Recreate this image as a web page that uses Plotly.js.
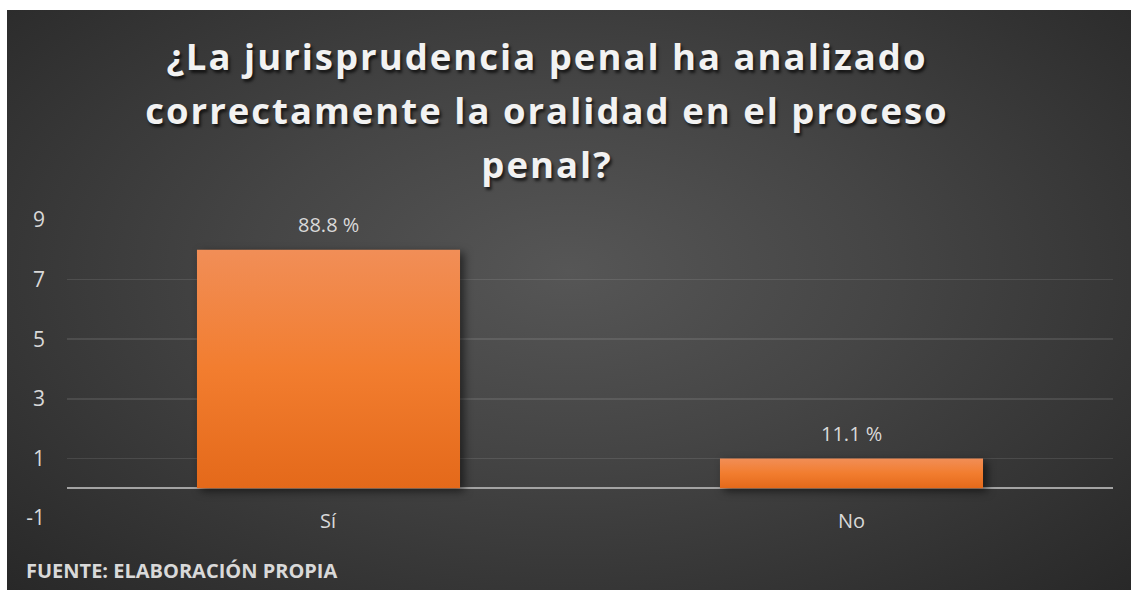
<!DOCTYPE html>
<html>
<head>
<meta charset="utf-8">
<script src="https://cdn.plot.ly/plotly-3.0.1.min.js"></script>
<style>
  html, body { margin: 0; padding: 0; background: #ffffff; }
  #chart {
    position: absolute; left: 7px; top: 10px; width: 1124px; height: 580px;
    background: radial-gradient(ellipse farthest-corner at 50% 45%, #565656 0%, #454545 40%, #2f2f2f 85%, #282828 100%);
  }
  #chart .gtitle { letter-spacing: 2px; }
  #chart .bars .point path {
    fill: url(#barGrad) !important;
    filter: drop-shadow(4px 3px 4px rgba(0,0,0,0.55));
  }
</style>
</head>
<body>
<svg width="0" height="0" style="position:absolute">
  <defs>
    <linearGradient id="barGrad" x1="0" y1="0" x2="0" y2="1">
      <stop offset="0%" stop-color="#f18e57"/>
      <stop offset="50%" stop-color="#f27d2f"/>
      <stop offset="100%" stop-color="#e4691a"/>
    </linearGradient>
  </defs>
</svg>
<div id="chart"></div>
<script>
const categories = ["Sí", "No"];
const values = [8, 1];
const dataLabels = ["88.8 %", "11.1 %"];
const yTicks = [-1, 1, 3, 5, 7, 9];
const titleText = "¿La jurisprudencia penal ha analizado<br>correctamente la oralidad en el proceso<br>penal?";
const sourceText = "FUENTE: ELABORACIÓN PROPIA";

const labelColor = "#d9d9d9";
const baseFont = "Open Sans, Noto Sans, sans-serif";

const trace = {
  type: "bar",
  x: categories,
  y: values,
  marker: { color: "#f07d32", line: { width: 0 } },
  hoverinfo: "skip",
  cliponaxis: false
};

const annotations = [];
categories.forEach((c, i) => {
  annotations.push({
    x: c, y: values[i], xref: "x", yref: "y",
    text: dataLabels[i], showarrow: false,
    xanchor: "center", yanchor: "middle", yshift: 25,
    font: { family: baseFont, size: 20, color: labelColor }
  });
  annotations.push({
    x: c, y: -1, xref: "x", yref: "y",
    text: c, showarrow: false,
    xanchor: "center", yanchor: "middle", yshift: -2,
    font: { family: baseFont, size: 20, color: labelColor }
  });
});
annotations.push({
  x: -0.0411, y: -0.175, xref: "paper", yref: "paper",
  text: "<b>" + sourceText + "</b>", showarrow: false,
  xanchor: "left", yanchor: "middle",
  font: { family: baseFont, size: 20, color: labelColor }
});

const layout = {
  width: 1124, height: 580,
  paper_bgcolor: "rgba(0,0,0,0)",
  plot_bgcolor: "rgba(0,0,0,0)",
  margin: { l: 60, r: 18, t: 210, b: 72 },
  showlegend: false,
  bargap: 0.497,
  title: {
    text: "<b>" + titleText + "</b>",
    xref: "container", yref: "container",
    x: 0.4804, y: 0.885, xanchor: "center", yanchor: "middle",
    font: {
      family: "Open Sans, Noto Sans, sans-serif",
      size: 36.5, color: "#f2f2f2",
      shadow: "2px 3px 3px rgba(0,0,0,0.65)"
    }
  },
  xaxis: {
    type: "category",
    showticklabels: false,
    showgrid: false, zeroline: false, showline: false, ticks: ""
  },
  yaxis: {
    range: [-1, 9],
    tickvals: yTicks,
    ticktext: yTicks.map(String),
    showgrid: true, gridcolor: "rgba(255,255,255,0.10)", gridwidth: 1.5,
    zeroline: true, zerolinecolor: "#a3a3a3", zerolinewidth: 2.5,
    showline: false, ticks: "",
    ticklabelstandoff: 21,
    tickfont: { family: baseFont, size: 21, color: labelColor }
  },
  annotations: annotations
};

Plotly.newPlot("chart", [trace], layout, { displayModeBar: false, staticPlot: true }).then(() => {
  // widen the line spacing of the title to match the reference
  const lines = document.querySelectorAll("#chart .gtitle tspan.line");
  lines.forEach((t, i) => {
    if (i > 0) t.setAttribute("dy", (i * 1.48).toFixed(2) + "em");
  });
  const title = document.querySelector("#chart .gtitle");
  if (title) {
    const y = parseFloat(title.getAttribute("y"));
    title.setAttribute("y", y - 7);
    lines.forEach((t) => { if (t.hasAttribute("y")) t.setAttribute("y", y - 7); });
  }
});
</script>
</body>
</html>
